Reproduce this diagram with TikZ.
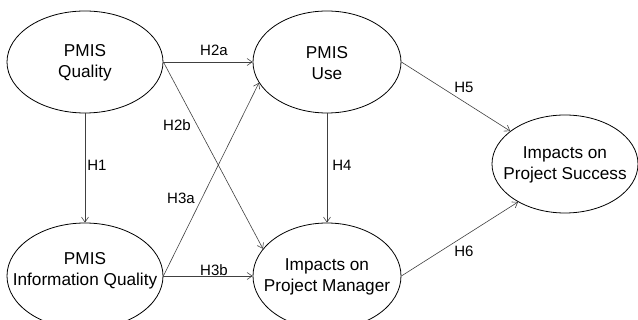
\documentclass[tikz,border=0pt]{standalone}
\usepackage{fontspec}
\setmainfont{Liberation Sans}
\usetikzlibrary{shapes.geometric,arrows.meta}
\definecolor{arrowgray}{HTML}{404040}
\tikzset{
  construct/.style={ellipse,draw=black,line width=0.8pt,inner sep=0pt},
  ctext/.style={align=center,inner sep=0pt,font=\fontsize{17.2}{20.5}\selectfont},
  link/.style={draw=arrowgray,line width=0.6pt,-{Straight Barb[length=5pt,width=7pt]}},
  hlabel/.style={font=\fontsize{15}{18}\selectfont,inner sep=0pt}
}
\begin{document}
\begin{tikzpicture}[x=1pt,y=-1pt]
\useasboundingbox (0,0) rectangle (638,320);
\node[construct,minimum width=156pt,minimum height=102pt] (q) at (85,62) {};
\node[construct,minimum width=148pt,minimum height=102pt] (u) at (327,62) {};
\node[construct,minimum width=156pt,minimum height=106pt] (iq) at (85,276) {};
\node[construct,minimum width=148pt,minimum height=106pt] (m) at (327,276) {};
\node[construct,minimum width=146pt,minimum height=98pt] (s) at (565,164) {};

\node[ctext] (qt) at ([yshift=-1pt]q.center) {PMIS\\Quality};
\node[ctext] (ut) at ([yshift=-1pt]u.center) {PMIS\\Use};
\node[ctext] (iqt) at ([yshift=5pt]iq.center) {PMIS\\Information Quality};
\node[ctext] (mt) at ([yshift=-1pt]m.center) {Impacts on\\Project Manager};
\node[ctext] (st) at ([yshift=-1pt]s.center) {Impacts on\\Project Success};

\draw[link] (q.east) -- (u.west);
\draw[link] (q.east) -- (m.157);
\draw[link] (q.south) -- (iq.north);
\draw[link] (iq.east) -- (u.197);
\draw[link] (iq.east) -- (m.west);
\draw[link] (u.south) -- (m.north);
\draw[link] (u.east) -- (s.149);
\draw[link] (m.east) -- (s.219);

\node[hlabel] (l2a) at (214,50) {H2a};
\node[hlabel] (l2b) at (177,125) {H2b};
\node[hlabel] (l1) at (97,165) {H1};
\node[hlabel] (l3a) at (181,198) {H3a};
\node[hlabel] (l3b) at (214,270) {H3b};
\node[hlabel] (l4) at (342,165) {H4};
\node[hlabel] (l5) at (464,87) {H5};
\node[hlabel] (l6) at (464,251) {H6};
\end{tikzpicture}
\end{document}
